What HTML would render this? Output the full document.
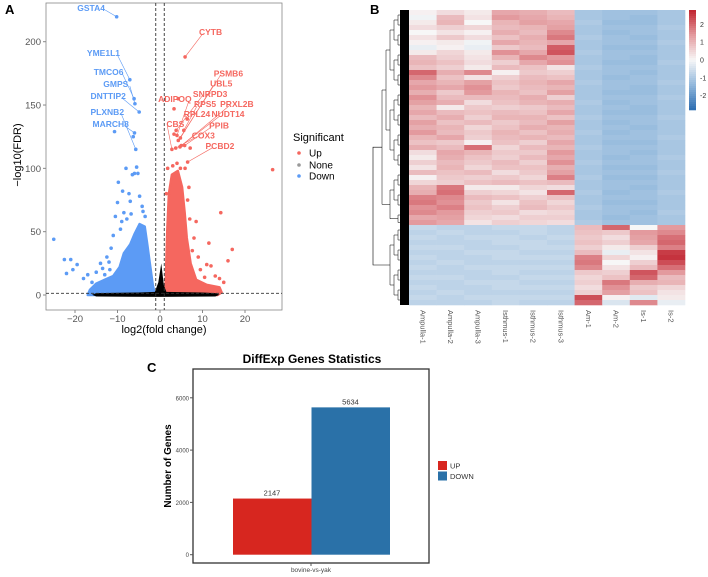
<!DOCTYPE html>
<html><head><meta charset="utf-8"><style>
html,body{margin:0;padding:0;background:#fff;}
svg{display:block;font-family:"Liberation Sans",sans-serif;}
</style></head><body>
<svg id="fig" width="708" height="577" viewBox="0 0 708 577">
<g id="volcano"></g>
<g id="heat"></g>
<g id="bars"></g>
</svg>
<script>
// ---------- Volcano data (data units) ----------
const blueCloud = [[-17,0],[-16.5,4],[-15,9],[-13,12],[-11,15],[-9.5,22],[-8.5,33],[-7,40],[-6,48],[-4.8,56],[-3.6,54],[-3,40],[-2.4,25],[-1.7,8],[-1.2,0]];
const redCloud = [[1.2,0],[1.4,15],[1.7,50],[2.1,80],[2.8,95],[4.2,98],[5.2,85],[5.8,65],[6.3,45],[7.2,25],[8.5,12],[11,8],[14,6],[14.5,2],[13.5,0]];
const grayBand = [[-16,0.2],[-15,1.5],[-5,2],[-1.2,2.5],[-0.4,10],[0.3,25],[0.9,8],[1.5,2.5],[10,2],[13,1.5],[14,0.2],[13,-1.2],[0,-1.5],[-15,-1.2]];
const blueX = [-25,-22.5,-21,-22,-20.5,-19.5,-18,-17,-16,-14,-13,-12.5,-11.5,-11,-10.5,-10,-9.8,-9.3,-8.8,-8,-7.3,-6.5,-6,-5.5,-5.2,-4.8,-4.2,-8.5,-7,-6.8,-10.7,-6.3,-15,-13.5,-12,-11.8,-9,-7.8,-4,-3.5];
const blueY = [44,28,28,17,20,24,13,16,10,25,16,30,37,47,62,73,89,52,82,100,80,95,96,101,96,78,70,65,74,64,129,125,18,21,26,20,58,60,66,62];
const redX = [1.5,1.8,3,4,4.8,6.5,8,9,11,12,13,14,15,16,17,11.5,14.3,26.5,8.5,7,3.3,3.3,7.1,4.3,9.5,10.5,7.6,6.8,5.9];
const redY = [80,100,102,104,100,75,45,30,24,23,15,13,10,27,36,41,65,99,58,60,147,127,116,155,20,14,35,85,100];
const downGenes = ["GSTA4","YME1L1","TMCO6","GMPS","DNTTIP2","PLXNB2","MARCH8"];
const downX = [-10.2,-7.1,-6.1,-5.9,-4.9,-5.7,-6.0];
const downY = [219.7,170,155,151,144.5,115,128];
const downLabX = [-16.2,-13.3,-12.1,-10.4,-12.2,-12.4,-11.6];
const downLabY = [226.6,191,176,166.6,157,144.5,135];
const upGenes = ["CYTB","PSMB6","UBL5","SNRPD3","ADIPOQ","RPS5","PRXL2B","RPL24","NUDT14","CBS","PPIB","COX3","PCBD2"];
const upX = [5.9,4.3,4.8,3.8,4.0,5.6,4.7,6.4,5.0,2.8,5.8,3.7,6.5];
const upY = [188,122,124,130,126,130,117,139,118,115,118,116,105];
const upLabX = [11.9,16.1,14.4,11.8,3.5,10.6,18.1,8.7,16.0,3.6,13.9,10.2,14.1];
const upLabY = [207.7,175,167,158.7,154.8,150.8,150.8,143,143,135,134,126,117.6];
const xTicks = [-20,-10,0,10,20];
const yTicks = [0,50,100,150,200];

// ---------- Heatmap data ----------
const sampleNames = ["Ampulla-1","Ampulla-2","Ampulla-3","Isthmus-1","Isthmus-2","Isthmus-3","Am-1","Am-2","Is-1","Is-2"];
const heatRows = [
[0.1,0.4,0.2,1.2,1.1,0.9,-1.1,-1.2,-1.2,-1.1],[-0.1,0.9,0.3,1.4,1.2,1.0,-1.1,-1.2,-1.3,-1.1],
[0.2,1.0,0.0,1.0,1.3,1.2,-1.0,-1.3,-1.3,-1.1],[0.4,0.6,0.5,0.9,1.0,1.3,-1.1,-1.2,-1.2,-1.0],
[0.0,0.3,0.1,1.1,0.9,1.6,-1.1,-1.3,-1.2,-1.1],[0.3,0.7,0.4,0.8,1.1,1.8,-1.0,-1.2,-1.3,-1.1],
[0.1,0.2,-0.1,1.2,1.0,1.2,-1.1,-1.2,-1.2,-1.0],[-0.2,0.1,-0.2,0.7,0.9,2.1,-1.1,-1.3,-1.3,-1.1],
[0.2,0.5,0.2,1.5,1.2,2.2,-1.0,-1.2,-1.2,-1.1],[0.9,0.6,0.3,1.0,1.6,1.4,-1.1,-1.2,-1.3,-1.1],
[1.0,0.8,0.4,0.6,1.2,1.5,-1.1,-1.3,-1.3,-1.0],[0.8,0.6,0.2,0.9,0.8,0.3,-1.0,-1.2,-1.2,-1.1],
[2.0,1.1,1.6,0.1,0.7,0.6,-1.1,-1.2,-1.3,-1.1],[1.6,0.8,0.3,0.6,0.9,0.8,-1.1,-1.3,-1.2,-1.1],
[1.2,1.0,1.3,0.8,1.0,1.2,-1.0,-1.2,-1.2,-1.0],[1.4,1.2,1.5,0.7,0.9,1.0,-1.1,-1.2,-1.3,-1.1],
[1.1,0.7,1.4,1.0,0.8,1.3,-1.1,-1.3,-1.3,-1.1],[1.5,0.9,0.9,0.9,1.1,0.6,-1.1,-1.2,-1.2,-1.0],
[1.3,1.1,0.4,0.8,1.0,1.1,-1.0,-1.3,-1.2,-1.1],[1.0,0.2,0.7,0.6,0.7,0.9,-1.1,-1.2,-1.3,-1.1],
[1.2,0.9,0.8,0.9,0.8,1.2,-1.1,-1.3,-1.3,-1.1],[0.9,1.1,0.6,1.0,1.0,0.8,-1.0,-1.2,-1.2,-1.0],
[1.3,0.8,0.9,0.7,0.9,1.3,-1.1,-1.3,-1.2,-1.1],[1.1,1.0,0.5,0.8,1.1,1.0,-1.1,-1.2,-1.3,-1.1],
[1.4,0.9,0.7,1.0,0.8,1.1,-1.0,-1.3,-1.2,-1.1],[1.0,1.2,0.6,0.9,1.0,0.9,-1.1,-1.2,-1.2,-1.0],
[0.8,0.7,0.1,0.8,0.6,1.2,-1.1,-1.3,-1.3,-1.1],[1.1,0.9,1.9,0.5,0.9,1.0,-1.0,-1.2,-1.2,-1.1],
[0.4,1.2,1.0,0.7,0.7,1.4,-1.1,-1.2,-1.3,-1.1],[0.2,1.1,0.8,0.6,0.9,1.2,-1.1,-1.3,-1.2,-1.0],
[0.6,0.9,0.7,0.9,0.6,1.5,-1.0,-1.2,-1.2,-1.1],[0.3,1.0,0.5,0.8,0.8,1.1,-1.1,-1.3,-1.3,-1.1],
[0.9,0.8,0.9,0.4,0.7,1.3,-1.1,-1.2,-1.2,-1.0],[0.1,0.7,0.6,0.7,0.5,1.7,-1.0,-1.3,-1.3,-1.1],
[0.5,0.6,0.8,0.9,0.8,0.9,-1.1,-1.2,-1.2,-1.1],[1.0,1.8,0.2,0.2,0.5,0.4,-1.1,-1.2,-1.3,-1.1],
[1.1,1.9,0.6,0.5,0.3,2.0,-1.0,-1.3,-1.2,-1.0],[1.7,1.6,0.9,0.8,0.6,0.8,-1.1,-1.2,-1.2,-1.1],
[1.8,1.5,0.7,0.3,0.8,0.5,-1.1,-1.3,-1.3,-1.1],[1.5,1.7,0.8,0.6,0.9,0.7,-1.0,-1.2,-1.2,-1.1],
[1.6,1.4,0.6,0.7,0.4,0.5,-1.1,-1.2,-1.3,-1.0],[1.2,1.3,0.5,0.4,0.6,0.6,-1.1,-1.3,-1.2,-1.1],
[1.4,1.2,0.3,0.6,0.5,0.4,-1.0,-1.2,-1.2,-1.1],
[-0.7,-0.8,-0.8,-0.7,-0.7,-0.8,0.9,2.0,0.0,1.4],[-0.8,-0.7,-0.8,-0.8,-0.7,-0.8,0.8,0.7,1.4,1.6],
[-0.7,-0.8,-0.7,-0.7,-0.8,-0.7,0.7,0.4,1.3,1.9],[-0.8,-0.8,-0.8,-0.7,-0.7,-0.8,0.8,0.6,1.2,2.0],
[-0.7,-0.7,-0.8,-0.8,-0.7,-0.7,0.6,0.2,0.6,1.7],[-0.8,-0.8,-0.7,-0.7,-0.8,-0.8,0.9,-0.2,0.3,2.5],
[-0.7,-0.8,-0.8,-0.7,-0.7,-0.7,1.7,0.5,0.1,2.6],[-0.8,-0.7,-0.8,-0.8,-0.8,-0.8,1.8,0.0,0.6,2.3],
[-0.7,-0.8,-0.7,-0.7,-0.7,-0.7,1.6,0.3,0.9,1.9],[-0.8,-0.8,-0.8,-0.7,-0.8,-0.8,0.7,0.6,2.2,1.4],
[-0.7,-0.7,-0.8,-0.8,-0.7,-0.7,0.5,0.8,2.0,0.9],[-0.8,-0.8,-0.7,-0.7,-0.8,-0.8,0.6,1.8,1.1,1.0],
[-0.7,-0.8,-0.8,-0.7,-0.7,-0.7,0.4,1.5,0.7,0.5],[-0.8,-0.7,-0.8,-0.8,-0.8,-0.8,0.6,1.3,0.8,0.3],
[-0.7,-0.8,-0.7,-0.7,-0.7,-0.7,2.3,0.1,-0.3,0.2],[-0.8,-0.8,-0.8,-0.7,-0.8,-0.8,2.0,-0.4,1.6,-0.2]
];
const topClusterSize = 43;
const colorbarTicks = [2,1,0,-1,-2];

// ---------- Bar chart data ----------
const barGroups = ["UP","DOWN"];
const barValues = [2147,5634];
const barYTicks = [0,2000,4000,6000];

const NS="http://www.w3.org/2000/svg";
function mk(parent,tag,attrs,text){const e=document.createElementNS(NS,tag);for(const k in attrs)e.setAttribute(k,attrs[k]);if(text!==undefined)e.textContent=text;parent.appendChild(e);return e;}

// ===== Panel A: volcano =====
const V=document.getElementById('volcano');
const vx=d=>160+d*4.25, vy=d=>295-d*1.2665;
const pts=a=>a.map(p=>vx(p[0])+','+vy(p[1])).join(' ');
let t=mk(V,'text',{x:5,y:14,'font-size':13,'font-weight':'bold'},'A');

let r=mk(V,'rect',{x:46,y:3,width:236,height:307,fill:'none',stroke:'#888','stroke-width':0.8});

let p=mk(V,'polygon',{points:pts(blueCloud),fill:'#5c9bf5','stroke':'#5c9bf5','stroke-width':2.5,'stroke-linejoin':'round'});

p=mk(V,'polygon',{points:pts(redCloud),fill:'#f5675f','stroke':'#f5675f','stroke-width':2.5,'stroke-linejoin':'round'});

p=mk(V,'polygon',{points:pts(grayBand),fill:'#000'});

blueX.forEach((x,i)=>{const c=mk(V,'circle',{cx:vx(x),cy:vy(blueY[i]),r:1.8,fill:'#5c9bf5'});

});
redX.forEach((x,i)=>{const c=mk(V,'circle',{cx:vx(x),cy:vy(redY[i]),r:1.8,fill:'#f5675f'});

});
function labels(names,xs,ys,lx,ly,col){names.forEach((n,i)=>{
 const px=vx(lx[i]),py=vy(ly[i]);
 const l=mk(V,'line',{x1:px+(lx[i]<xs[i]?14:-8),y1:py+2,x2:vx(xs[i]),y2:vy(ys[i]),stroke:col,'stroke-width':0.6});
 
 
 const c=mk(V,'circle',{cx:vx(xs[i]),cy:vy(ys[i]),r:1.8,fill:col});
 
 
 const tx=mk(V,'text',{x:px,y:py+3,'font-size':8.5,'font-weight':'bold',fill:col,'text-anchor':'middle'},n);
 
 });}
labels(downGenes,downX,downY,downLabX,downLabY,'#5c9bf5');
labels(upGenes,upX,upY,upLabX,upLabY,'#f5675f');
// threshold lines
[[vx(-1),3,vx(-1),310],[vx(1),3,vx(1),310],[46,vy(1.3),282,vy(1.3)]].forEach(a=>{
 const l=mk(V,'line',{x1:a[0],y1:a[1],x2:a[2],y2:a[3],stroke:'#333','stroke-width':0.9,'stroke-dasharray':'3,2'});
 
 });
xTicks.forEach(v=>{const l=mk(V,'line',{x1:vx(v),y1:310,x2:vx(v),y2:313,stroke:'#888'});
 
 
 const tx=mk(V,'text',{x:vx(v),y:322,'font-size':9.5,fill:'#555','text-anchor':'middle'},v<0?'\u2212'+(-v):v);
 
 });
yTicks.forEach(v=>{const l=mk(V,'line',{x1:43,y1:vy(v),x2:46,y2:vy(v),stroke:'#888'});
 
 
 const tx=mk(V,'text',{x:41,y:vy(v)+3.5,'font-size':9.5,fill:'#555','text-anchor':'end'},v);
 
 });
t=mk(V,'text',{x:164,y:333,'font-size':11,'text-anchor':'middle'},'log2(fold change)');

t=mk(V,'text',{x:0,y:0,'font-size':11,'text-anchor':'middle',transform:'translate(21,155) rotate(-90)'},'\u2212log10(FDR)');

t=mk(V,'text',{x:293,y:141,'font-size':11},'Significant');

[['Up','#f5675f',153],['None','#999',165],['Down','#5c9bf5',176]].forEach(e=>{
 const c=mk(V,'circle',{cx:299,cy:e[2],r:1.8,fill:e[1]});
 
 
 const tx=mk(V,'text',{x:309,y:e[2]+3.5,'font-size':10},e[0]);
 
 });

// ===== Panel B: heatmap =====
const H=document.getElementById('heat');
t=mk(H,'text',{x:370,y:14,'font-size':13,'font-weight':'bold'},'B');

const hx0=409,hy0=10,cw=27.6,rh=295/heatRows.length;
const stops=[[-2.8,[43,108,176]],[-1.4,[146,184,220]],[0,[247,247,247]],[1.4,[227,154,158]],[2.8,[192,34,46]]];
function col(v){v=Math.max(-2.8,Math.min(2.8,v));for(let i=0;i<stops.length-1;i++){const a=stops[i],b=stops[i+1];if(v<=b[0]){const f=(v-a[0])/(b[0]-a[0]);return 'rgb('+a[1].map((c,k)=>Math.round(c+(b[1][k]-c)*f)).join(',')+')';}}return 'rgb(192,34,46)';}
heatRows.forEach((row,i)=>row.forEach((v,j)=>{
 const c=mk(H,'rect',{x:hx0+j*cw,y:hy0+i*rh,width:cw+0.3,height:rh+0.3,fill:col(v)});
 
 }));
sampleNames.forEach((n,j)=>{
 const tx=mk(H,'text',{x:0,y:0,'font-size':7.5,fill:'#555',transform:'translate('+(hx0+j*cw+cw/2-2.5)+',310) rotate(90)'},n);
 
 });
// dendrogram
function dendro(start,count,rootX){
 let nodes=[];for(let i=0;i<count;i++)nodes.push({y:hy0+(start+i+0.5)*rh,x:408});
 let level=0;
 while(nodes.length>1){level++;const nx=Math.max(rootX,406-level*4),nn=[];
  for(let i=0;i<nodes.length;i+=2){
   if(i+1<nodes.length){const a=nodes[i],b=nodes[i+1];
    mk(H,'path',{d:'M'+a.x+','+a.y+'H'+nx+'V'+b.y+'H'+b.x,fill:'none',stroke:'#000','stroke-width':0.5});
    nn.push({x:nx,y:(a.y+b.y)/2});}else nn.push(nodes[i]);}
  nodes=nn;}
 return nodes[0];}
const d1=dendro(0,topClusterSize,381),d2=dendro(topClusterSize,heatRows.length-topClusterSize,381);
const root=mk(H,'path',{d:'M'+d1.x+','+d1.y+'H373V'+d2.y+'H'+d2.x,fill:'none',stroke:'#000','stroke-width':0.6});

r=mk(H,'rect',{x:400,y:10,width:9,height:295,fill:'#000'});

// colorbar
const cbTop=10,cbH=100,cbMax=2.8;
for(let k=0;k<50;k++){const v=cbMax-(k+0.5)*(2*cbMax/50);
 const c=mk(H,'rect',{x:689,y:cbTop+k*cbH/50,width:7,height:cbH/50+0.3,fill:col(v)});
 
 }
colorbarTicks.forEach(v=>{const y=cbTop+(cbMax-v)/(2*cbMax)*cbH;
 const tx=mk(H,'text',{x:700,y:y+2.5,'font-size':7,fill:'#333'},v<0?'-'+(-v):v);
 
 });

// ===== Panel C: bar chart =====
const B=document.getElementById('bars');
const by=v=>554.7-v*0.02615;
t=mk(B,'text',{x:147,y:372,'font-size':13,'font-weight':'bold'},'C');

t=mk(B,'text',{x:312,y:363,'font-size':12,'font-weight':'bold','text-anchor':'middle'},'DiffExp Genes Statistics');

r=mk(B,'rect',{x:193,y:369,width:236,height:194,fill:'none',stroke:'#333','stroke-width':1.3});

const barCol=['#d7261f','#2a71a8'];
barValues.forEach((v,i)=>{const x=233+i*78.5;
 const b=mk(B,'rect',{x:x,y:by(v),width:78.5,height:554.7-by(v),fill:barCol[i]});
 
 
 const tx=mk(B,'text',{x:x+39,y:by(v)-3,'font-size':7.5,fill:'#333','text-anchor':'middle'},v);
 
 });
barYTicks.forEach(v=>{const l=mk(B,'line',{x1:190,y1:by(v),x2:193,y2:by(v),stroke:'#555'});
 
 
 const tx=mk(B,'text',{x:189,y:by(v)+2.5,'font-size':6,fill:'#444','text-anchor':'end'},v);
 
 });
let l=mk(B,'line',{x1:311,y1:563,x2:311,y2:566,stroke:'#555'});

t=mk(B,'text',{x:311,y:572,'font-size':6.5,fill:'#444','text-anchor':'middle'},'bovine-vs-yak');

t=mk(B,'text',{x:0,y:0,'font-size':10,'font-weight':'bold','text-anchor':'middle',transform:'translate(171,466) rotate(-90)'},'Number of Genes');

barGroups.forEach((g,i)=>{const y=461+i*10.5;
 const s=mk(B,'rect',{x:438,y:y,width:9,height:9,fill:barCol[i]});
 
 
 const tx=mk(B,'text',{x:450,y:y+7.5,'font-size':7.5,fill:'#333'},g);
 
 });
</script>
</body></html>
